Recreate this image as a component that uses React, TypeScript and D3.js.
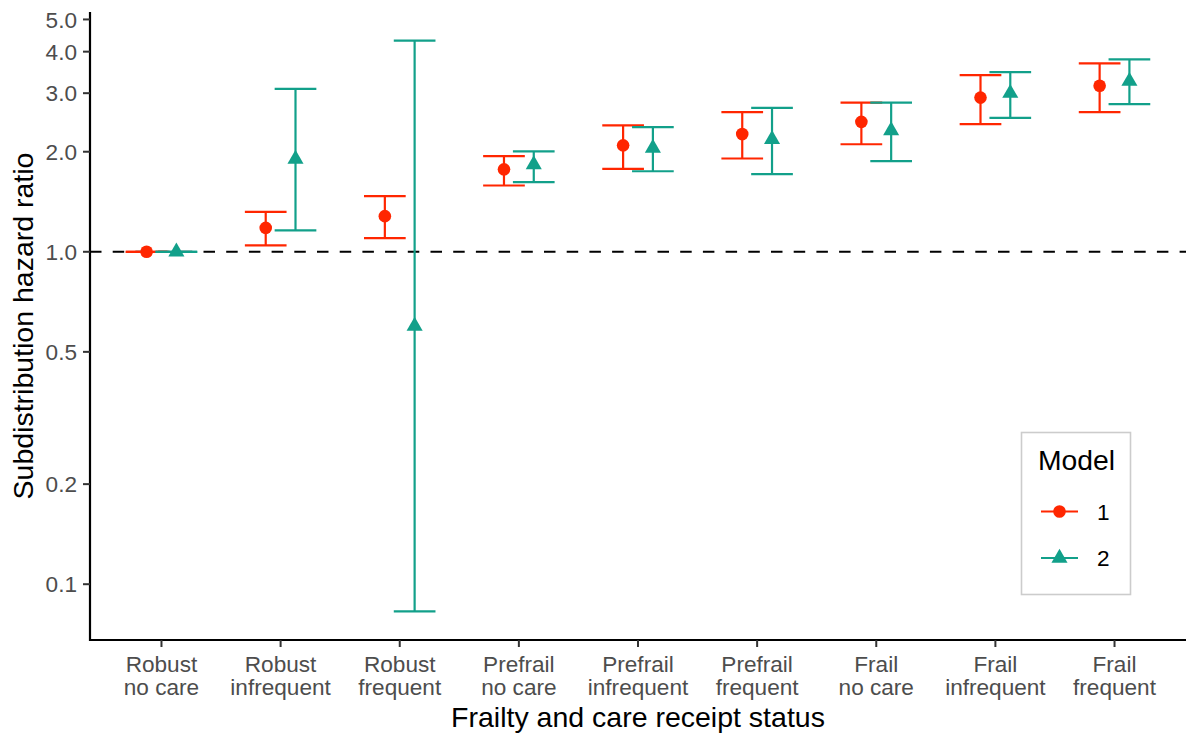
import React from "react";
import * as d3 from "d3";

// Frailty × care-receipt groups (two-line axis labels)
const categories = [
  "Robust\nno care",
  "Robust\ninfrequent",
  "Robust\nfrequent",
  "Prefrail\nno care",
  "Prefrail\ninfrequent",
  "Prefrail\nfrequent",
  "Frail\nno care",
  "Frail\ninfrequent",
  "Frail\nfrequent",
];

// Model 1 subdistribution hazard ratios with 95% CI
const model1Est = [1.0, 1.18, 1.28, 1.77, 2.09, 2.26, 2.46, 2.91, 3.16];
const model1Lo = [1.0, 1.045, 1.1, 1.583, 1.775, 1.908, 2.106, 2.42, 2.63];
const model1Hi = [1.0, 1.318, 1.47, 1.94, 2.4, 2.63, 2.81, 3.4, 3.69];

// Model 2 subdistribution hazard ratios with 95% CI
const model2Est = [1.0, 1.9, 0.598, 1.83, 2.05, 2.18, 2.315, 3.0, 3.26];
const model2Lo = [1.0, 1.16, 0.0828, 1.62, 1.747, 1.712, 1.873, 2.53, 2.78];
const model2Hi = [1.0, 3.09, 4.32, 2.005, 2.37, 2.71, 2.81, 3.47, 3.79];

const modelNames = ["1", "2"];
const yTicks = [0.1, 0.2, 0.5, 1, 2, 3, 4, 5];
const yTickLabels = ["0.1", "0.2", "0.5", "1.0", "2.0", "3.0", "4.0", "5.0"];

const COLORS = ["#FF2600", "#12A08A"];
const FONT = "'Liberation Sans', Arial, Helvetica, sans-serif";

const W = 1186;
const H = 737;
const panel = { left: 90, right: 1186, top: 12, bottom: 640 };

type Row = { cat: string; est: number; lo: number; hi: number; model: number };

const rows: Row[] = [
  ...categories.map((c, i) => ({ cat: c, est: model1Est[i], lo: model1Lo[i], hi: model1Hi[i], model: 0 })),
  ...categories.map((c, i) => ({ cat: c, est: model2Est[i], lo: model2Lo[i], hi: model2Hi[i], model: 1 })),
];

export default function App() {
  // log-scale y with 5% expansion of the data range on each side
  const logs = rows.flatMap((r) => [Math.log10(r.lo), Math.log10(r.hi), Math.log10(r.est)]);
  const [lmin, lmax] = d3.extent(logs) as [number, number];
  const pad = (lmax - lmin) * 0.05;
  const y = d3
    .scaleLog()
    .domain([Math.pow(10, lmin - pad), Math.pow(10, lmax + pad)])
    .range([panel.bottom, panel.top]);

  const x = d3.scalePoint<string>().domain(categories).range([panel.left, panel.right]).padding(0.6);
  const step = x.step();
  const dodge = step * 0.125;
  const capHalf = step * 0.175;
  const px = (r: Row) => (x(r.cat) as number) + (r.model === 0 ? -dodge : dodge);

  const tri = d3.symbol().type(d3.symbolTriangle).size(112)();

  const marker = (model: number, cx: number, cy: number, key: string) =>
    model === 0 ? (
      <circle key={key} cx={cx} cy={cy} r={6.3} fill={COLORS[0]} />
    ) : (
      <path key={key} d={tri as string} transform={`translate(${cx},${cy})`} fill={COLORS[1]} />
    );

  return (
    <div style={{ position: "absolute", left: 0, top: 0 }}>
      <svg width={W} height={H} style={{ display: "block", background: "#fff" }} fontFamily={FONT}>
        {/* reference line at HR = 1 */}
        <line
          x1={panel.left}
          x2={panel.right}
          y1={y(1)}
          y2={y(1)}
          stroke="#000"
          strokeWidth={2.1}
          strokeDasharray="11.5 11.2"
        />

        {/* error bars */}
        {rows.map((r, i) => {
          const cx = px(r);
          return (
            <g key={`eb${i}`} stroke={COLORS[r.model]} strokeWidth={2.2} fill="none">
              <line x1={cx} x2={cx} y1={y(r.lo)} y2={y(r.hi)} />
              <line x1={cx - capHalf} x2={cx + capHalf} y1={y(r.lo)} y2={y(r.lo)} />
              <line x1={cx - capHalf} x2={cx + capHalf} y1={y(r.hi)} y2={y(r.hi)} />
            </g>
          );
        })}

        {/* point estimates */}
        {rows.map((r, i) => marker(r.model, px(r), y(r.est), `pt${i}`))}

        {/* axes */}
        <line x1={panel.left} x2={panel.left} y1={panel.top} y2={panel.bottom + 1} stroke="#000" strokeWidth={2.2} />
        <line x1={panel.left - 1} x2={panel.right} y1={panel.bottom} y2={panel.bottom} stroke="#000" strokeWidth={2.2} />

        {yTicks.map((t, i) => (
          <g key={`yt${i}`}>
            <line x1={panel.left - 7} x2={panel.left} y1={y(t)} y2={y(t)} stroke="#333" strokeWidth={2} />
            <text x={77} y={y(t)} dy="0.36em" textAnchor="end" fontSize={22.6} fill="#4D4D4D">
              {yTickLabels[i]}
            </text>
          </g>
        ))}

        {categories.map((c, i) => {
          const cx = x(c) as number;
          const lines = c.split("\n");
          return (
            <g key={`xt${i}`}>
              <line x1={cx} x2={cx} y1={panel.bottom} y2={panel.bottom + 7} stroke="#333" strokeWidth={2} />
              {lines.map((ln, j) => (
                <text key={j} x={cx} y={672 + j * 23} textAnchor="middle" fontSize={22.6} fill="#4D4D4D">
                  {ln}
                </text>
              ))}
            </g>
          );
        })}

        <text x={(panel.left + panel.right) / 2} y={727} textAnchor="middle" fontSize={28.5} fill="#000">
          Frailty and care receipt status
        </text>
        <text
          transform={`translate(33,${(panel.top + panel.bottom) / 2}) rotate(-90)`}
          textAnchor="middle"
          fontSize={28.5}
          fill="#000"
        >
          Subdistribution hazard ratio
        </text>

        {/* legend */}
        <g>
          <rect x={1021.5} y={432.5} width={109} height={162} fill="#fff" stroke="#CCCCCC" strokeWidth={1.6} />
          <text x={1038} y={470} fontSize={28.3} fill="#000">
            Model
          </text>
          {modelNames.map((m, i) => {
            const ky = 511.5 + i * 46.5;
            return (
              <g key={`lg${i}`}>
                <line x1={1041} x2={1078} y1={ky} y2={ky} stroke={COLORS[i]} strokeWidth={2.2} />
                {marker(i, 1059.5, ky, `lgm${i}`)}
                <text x={1097} y={ky} dy="0.36em" fontSize={22.6} fill="#000">
                  {m}
                </text>
              </g>
            );
          })}
        </g>
      </svg>
    </div>
  );
}
